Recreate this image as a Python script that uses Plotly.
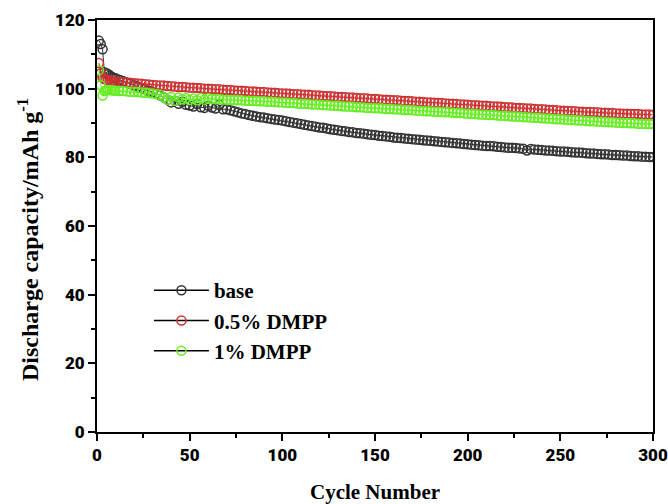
import plotly.graph_objects as go

# cycles
cycles_start = [1, 2, 3, 4, 5, 6, 7, 8, 9]
cycles_main = list(range(10, 301, 2))
cycles = cycles_start + cycles_main

base = [114.0, 113.0, 111.5, 104.8, 104.5, 104.2, 103.8, 103.4, 103.2,
        103.0, 102.6, 102.2, 101.8, 101.4, 101.0, 100.6, 100.2, 99.8, 99.4,
        99.0, 98.6, 98.1, 97.5, 96.8, 96.0, 96.5, 95.6, 96.2, 95.3,
        95.1, 94.8, 95.5, 94.6, 94.4, 95.0, 94.5, 94.2, 95.3, 94.0,
        94.0, 93.7, 93.4, 93.1, 92.8, 92.6, 92.3, 92.1, 91.9, 91.7,
        91.6, 91.4, 91.2, 91.0, 90.9, 90.7, 90.5, 90.3, 90.1, 89.9,
        89.7, 89.5, 89.3, 89.1, 88.9, 88.7, 88.6, 88.4, 88.2, 88.0,
        87.9, 87.7, 87.6, 87.4, 87.3, 87.1, 87.0, 86.9, 86.7, 86.6,
        86.5, 86.3, 86.2, 86.1, 86.0, 85.8, 85.7, 85.6, 85.5, 85.4,
        85.3, 85.2, 85.1, 85.0, 84.9, 84.8, 84.7, 84.6, 84.5, 84.4,
        84.3, 84.2, 84.1, 84.0, 83.9, 83.8, 83.7, 83.6, 83.5, 83.4,
        83.3, 83.3, 83.2, 83.1, 83.0, 82.9, 82.8, 82.8, 82.7, 82.6,
        82.5, 82.0, 82.4, 82.3, 82.2, 82.1, 82.0, 82.0, 81.9, 81.8,
        81.7, 81.7, 81.6, 81.5, 81.4, 81.4, 81.3, 81.2, 81.1, 81.1,
        81.0, 80.9, 80.9, 80.8, 80.7, 80.7, 80.6, 80.5, 80.5, 80.4,
        80.3, 80.3, 80.2, 80.2, 80.1, 80.1]

dmpp05 = [107.5, 104.5, 103.2, 102.8, 102.6, 102.5, 102.4, 102.3, 102.2,
          102.1, 102.0, 101.9, 101.8, 101.7, 101.6, 101.5, 101.4, 101.3, 101.2,
          101.1, 101.0, 100.9, 100.9, 100.8, 100.7, 100.6, 100.5, 100.5, 100.4,
          100.3, 100.3, 100.2, 100.1, 100.0, 100.0, 99.9, 99.8, 99.8, 99.7,
          99.6, 99.6, 99.5, 99.4, 99.4, 99.3, 99.2, 99.2, 99.1, 99.0,
          99.0, 98.9, 98.8, 98.8, 98.7, 98.6, 98.6, 98.5, 98.4, 98.4,
          98.3, 98.2, 98.2, 98.1, 98.0, 98.0, 97.9, 97.8, 97.8, 97.7,
          97.6, 97.6, 97.5, 97.4, 97.4, 97.3, 97.2, 97.2, 97.1, 97.0,
          97.0, 96.9, 96.8, 96.8, 96.7, 96.6, 96.6, 96.5, 96.4, 96.4,
          96.3, 96.2, 96.2, 96.1, 96.0, 96.0, 95.9, 95.8, 95.8, 95.7,
          95.6, 95.6, 95.5, 95.4, 95.4, 95.3, 95.2, 95.2, 95.1, 95.0,
          95.0, 94.9, 94.8, 94.8, 94.7, 94.6, 94.6, 94.5, 94.4, 94.4,
          94.3, 94.2, 94.2, 94.1, 94.0, 94.0, 93.9, 93.8, 93.8, 93.7,
          93.6, 93.6, 93.5, 93.4, 93.4, 93.3, 93.3, 93.2, 93.2, 93.1,
          93.1, 93.0, 93.0, 92.9, 92.9, 92.8, 92.8, 92.7, 92.7, 92.6,
          92.6, 92.6, 92.5, 92.5, 92.5, 92.4]

dmpp1 = [105.4, 101.0, 98.0, 99.3, 99.5, 99.6, 99.6, 99.5, 99.5,
         99.4, 99.3, 99.3, 99.2, 99.1, 99.0, 99.0, 98.9, 98.8, 98.7,
         98.6, 98.4, 98.2, 97.5, 96.8, 97.6, 96.5, 97.4, 96.9, 97.2,
         96.7, 97.1, 96.6, 97.3, 96.8, 97.2, 97.0, 96.9, 96.9, 96.8,
         96.8, 96.7, 96.7, 96.6, 96.6, 96.5, 96.5, 96.4, 96.4, 96.3,
         96.3, 96.2, 96.2, 96.1, 96.0, 96.0, 95.9, 95.8, 95.8, 95.7,
         95.6, 95.6, 95.5, 95.4, 95.4, 95.3, 95.2, 95.2, 95.1, 95.0,
         95.0, 94.9, 94.8, 94.8, 94.7, 94.6, 94.6, 94.5, 94.4, 94.4,
         94.3, 94.3, 94.2, 94.1, 94.1, 94.0, 93.9, 93.9, 93.8, 93.8,
         93.7, 93.6, 93.6, 93.5, 93.4, 93.4, 93.3, 93.3, 93.2, 93.1,
         93.1, 93.0, 92.9, 92.9, 92.8, 92.7, 92.7, 92.6, 92.5, 92.5,
         92.4, 92.3, 92.3, 92.2, 92.1, 92.1, 92.0, 91.9, 91.9, 91.8,
         91.7, 91.7, 91.6, 91.5, 91.5, 91.4, 91.3, 91.3, 91.2, 91.1,
         91.1, 91.0, 90.9, 90.9, 90.8, 90.7, 90.7, 90.6, 90.5, 90.5,
         90.4, 90.4, 90.3, 90.2, 90.2, 90.1, 90.1, 90.0, 90.0, 89.9,
         89.9, 89.8, 89.8, 89.7, 89.7, 89.7]

names = ["base", "0.5% DMPP", "1% DMPP"]
colors = ["#333333", "#cc3333", "#66ee22"]
series = [base, dmpp05, dmpp1]

x_ticks = [0, 50, 100, 150, 200, 250, 300]
y_ticks = [0, 20, 40, 60, 80, 100, 120]

fig = go.Figure()
for name, col, vals in zip(names, colors, series):
    fig.add_trace(go.Scatter(
        x=cycles, y=vals, mode="lines+markers", showlegend=False,
        line=dict(color=col, width=1),
        marker=dict(symbol="circle-open", size=9, color=col, line=dict(width=1.5, color=col)),
    ))
for i, (name, col) in enumerate(zip(names, colors)):
    fig.add_trace(go.Scatter(
        x=[None], y=[None], mode="lines+markers", name=name, legendgroup=str(i),
        line=dict(color="black", width=1.5),
        marker=dict(symbol="circle-open", size=9, color=col, line=dict(width=1.5, color=col)),
    ))

tickfont = dict(family="Roboto, Liberation Sans", size=17, color="black", weight=900)
serif = "Liberation Serif, Times New Roman"

fig.update_layout(
    width=668, height=504,
    margin=dict(l=97, r=15, t=20, b=72),
    paper_bgcolor="white", plot_bgcolor="white",
    legend=dict(x=0.0934, y=0.393, xanchor="left", yanchor="top",
                font=dict(family=serif, size=21, color="black", weight="bold"),
                bgcolor="rgba(0,0,0,0)", itemwidth=55, tracegroupgap=0),
    xaxis=dict(range=[0, 300], tickvals=x_ticks, ticktext=[str(v) for v in x_ticks],
               automargin=False,
               ticks="outside", ticklen=7, tickwidth=2, tickcolor="black",
               minor=dict(tickvals=[25, 75, 125, 175, 225, 275], ticks="outside", ticklen=4, tickwidth=2, tickcolor="black"),
               showline=True, linewidth=2, linecolor="black", mirror=True,
               showgrid=False, zeroline=False, tickfont=tickfont,
               title=dict(text="<b>Cycle Number</b>", font=dict(family=serif, size=21, color="black"), standoff=20)),
    yaxis=dict(range=[0, 120], tickvals=y_ticks, ticktext=[str(v) for v in y_ticks],
               automargin=False,
               ticks="outside", ticklen=7, tickwidth=2, tickcolor="black",
               minor=dict(tickvals=[10, 30, 50, 70, 90, 110], ticks="outside", ticklen=4, tickwidth=2, tickcolor="black"),
               showline=True, linewidth=2, linecolor="black", mirror=True,
               showgrid=False, zeroline=False, tickfont=tickfont),
    annotations=[dict(text="<b>Discharge capacity/mAh g<sup>-1</sup></b>", textangle=-90,
                      xref="paper", yref="paper", x=-0.124, y=0.466, xanchor="center", yanchor="middle",
                      showarrow=False, font=dict(family=serif, size=24, color="black"))],
)

fig.write_html("out.html", config={"displayModeBar": False},
               post_script="document.body.style.margin='0';document.body.style.overflow='hidden';")
